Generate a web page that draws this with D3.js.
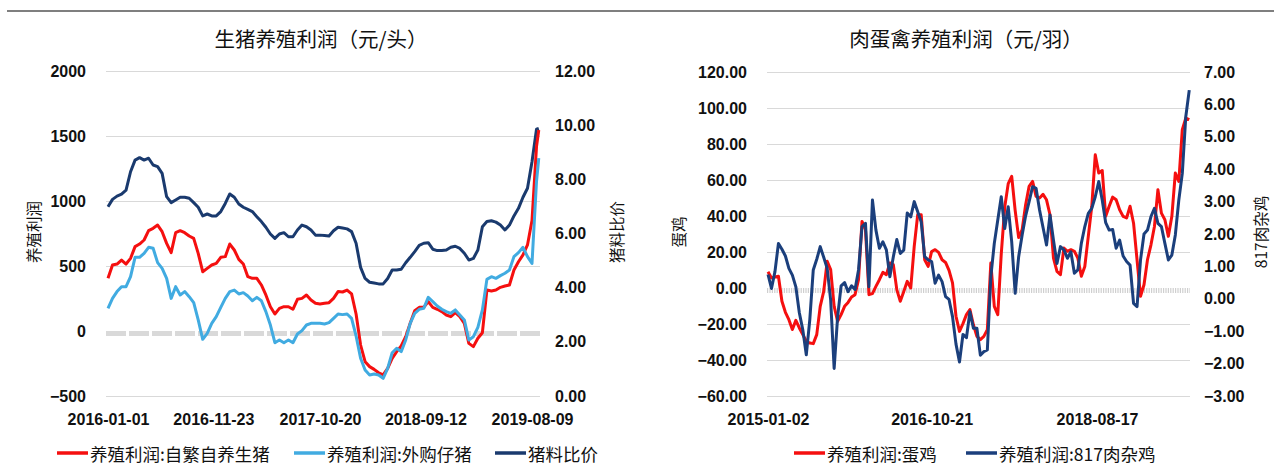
<!DOCTYPE html>
<html><head><meta charset="utf-8">
<script src="https://cdn.jsdelivr.net/npm/d3@7/dist/d3.min.js"></script>
<style>
html,body{margin:0;padding:0;background:#fff;}
svg{display:block;}
</style></head><body>
<svg id="c" width="1274" height="471"></svg>
<script>
// ---------------- LEFT CHART DATA (生猪养殖利润) ----------------
const pigDates = [
"2016-01-01","2016-01-15","2016-01-29","2016-02-12","2016-02-26","2016-03-11","2016-03-25","2016-04-08","2016-04-22","2016-05-06",
"2016-05-20","2016-06-03","2016-06-17","2016-07-01","2016-07-15","2016-07-29","2016-08-12","2016-08-26","2016-09-09","2016-09-23",
"2016-10-07","2016-10-21","2016-11-04","2016-11-18","2016-12-02","2016-12-16","2016-12-30",
"2017-01-13","2017-01-27","2017-02-10","2017-02-24","2017-03-10","2017-03-24","2017-04-07","2017-04-21","2017-05-05","2017-05-19",
"2017-06-02","2017-06-16","2017-06-30","2017-07-14","2017-07-28","2017-08-11","2017-08-25","2017-09-08","2017-09-22","2017-10-06",
"2017-10-20","2017-11-03","2017-11-17","2017-12-01","2017-12-15","2017-12-29",
"2018-01-12","2018-01-26","2018-02-09","2018-02-23","2018-03-09","2018-03-23","2018-04-06","2018-04-20","2018-05-04","2018-05-18",
"2018-06-01","2018-06-15","2018-06-29","2018-07-13","2018-07-27","2018-08-10","2018-08-24","2018-09-07","2018-09-21","2018-10-05",
"2018-10-19","2018-11-02","2018-11-16","2018-11-30","2018-12-14","2018-12-28",
"2019-01-11","2019-01-25","2019-02-08","2019-02-22","2019-03-08","2019-03-22","2019-04-05","2019-04-19","2019-05-03","2019-05-17",
"2019-05-31","2019-06-14","2019-06-28","2019-07-12","2019-07-26","2019-08-09","2019-08-23","2019-08-30"];
// 养殖利润:自繁自养生猪 (元/头)
const pigSelfBred = [
405,508,515,546,515,559,649,669,700,772,790,815,764,674,603,756,772,756,731,713,597,456,482,508,520,567,572,
669,623,551,515,418,405,405,354,277,187,131,174,187,187,167,244,251,277,238,213,208,213,218,251,303,300,
315,285,131,-108,-236,-274,-295,-321,-338,-287,-210,-159,-115,-44,59,156,182,182,226,182,167,149,123,110,141,110,
59,-95,-120,-56,-13,315,308,315,336,346,354,469,533,585,662,850,1418,1546];
// 养殖利润:外购仔猪 (元/头)
const pigPurchased = [
174,251,303,341,341,418,567,567,597,644,636,526,482,405,251,341,277,303,264,218,85,-64,-18,59,110,182,251,
303,315,285,295,269,233,259,233,149,46,-90,-69,-90,-69,-90,-23,3,46,59,59,59,54,64,97,131,126,
131,97,-38,-210,-300,-338,-331,-338,-364,-287,-167,-133,-159,-69,59,136,167,174,259,226,192,167,149,136,162,123,
85,-69,-44,28,162,397,418,405,426,444,469,572,603,644,572,520,1150,1330];
// 猪料比价
const pigFeedRatio = [
6.99,7.26,7.38,7.45,7.60,8.28,8.71,8.80,8.71,8.78,8.53,8.47,8.22,7.36,7.14,7.24,7.34,7.34,7.30,7.14,6.97,6.65,6.72,6.65,6.65,6.81,7.11,
7.46,7.34,7.09,6.97,6.89,6.81,6.62,6.44,6.23,5.98,5.82,5.98,6.03,5.88,5.88,6.13,6.31,6.25,6.13,5.94,5.94,5.93,5.91,6.10,6.23,6.20,
6.17,6.07,5.64,4.75,4.34,4.20,4.17,4.14,4.14,4.34,4.65,4.65,4.68,4.92,5.12,5.33,5.56,5.64,5.66,5.42,5.37,5.37,5.39,5.49,5.53,5.45,
5.27,5.02,5.08,5.39,6.25,6.44,6.47,6.42,6.31,6.13,6.31,6.65,6.93,7.34,7.67,8.65,9.85,9.88];
const pigTicksLeft = [-500,0,500,1000,1500,2000];
const pigTicksRight = [0,2,4,6,8,10,12];
const pigXTicks = ["2016-01-01","2016-11-23","2017-10-20","2018-09-12","2019-08-09"];

// ---------------- RIGHT CHART DATA (肉蛋禽养殖利润) ----------------
const poultryDates2015 = [
"2015-01-02","2015-01-16","2015-01-30","2015-02-13","2015-02-27","2015-03-13","2015-03-27","2015-04-10","2015-04-24","2015-05-08",
"2015-05-22","2015-06-05","2015-06-19","2015-07-03","2015-07-17","2015-07-31","2015-08-14","2015-08-28","2015-09-11","2015-09-25",
"2015-10-09","2015-10-23","2015-11-06","2015-11-20","2015-12-04","2015-12-18"];
const poultryDates = poultryDates2015.concat(pigDates.slice(0, 96));
// 养殖利润:蛋鸡 (元/羽, 左轴)
const eggProfit = [
9,5.6,6.1,6.5,-7.4,-13.5,-17.6,-23.1,-18,-22.2,-25.9,-29.6,-30.6,-30.9,-25.9,-10.2,-1.9,14.8,10.2,-10.2,-18.5,-14.8,-10.2,-8,-5,-3.7,
4.6,37,32.4,-3.7,-3.1,0.9,4.6,8.7,7.4,13.9,13,-0.9,-7.4,-2,3.7,0,23.1,40.7,40.7,15.7,12,20.3,21.3,19.8,15.7,14.2,9.8,
2.8,-15.7,-24.1,-19.8,-14.8,-12,-20.4,-26.9,-28.7,-26.9,-23.1,13.9,-10.2,-14.8,19,45,58,62,43,28,32.4,46.3,56.5,59.2,50.9,50,
52,49,40.7,16.6,9.2,7.4,22.2,20.4,21.3,20.4,16.6,6.5,12,28.7,45.4,74,63.9,65.3,39.8,45.4,50.5,49,43.5,39.8,38.9,45.4,
36,15.7,-4.6,1.8,15.7,24,34.2,54.6,41.6,37.9,28.7,39.8,63.9,59.2,88,94.4,93.5];
// 养殖利润:817肉杂鸡 (元/羽, 右轴)
const broilerProfit = [
0.75,0.32,0.84,1.71,1.53,1.32,0.94,0.73,0.37,-0.43,-0.96,-1.73,-0.65,0.89,1.22,1.61,1.28,0.94,-0.04,-2.15,-0.55,0.40,0.50,0.22,0.40,0.29,
0.89,2.23,2.33,0.37,3.05,2.12,1.56,1.76,1.51,0.68,1.30,1.83,1.40,1.50,2.65,2.53,3.0,2.69,2.38,1.30,1.20,1.15,0.48,0.73,0.53,0.07,-0.02,
-0.55,-1.4,-1.95,-1.1,-1.2,-0.40,-0.91,-0.91,-1.74,-1.63,-1.58,0.68,1.71,2.43,3.15,2.17,2.84,1.76,0.17,1.30,1.97,2.56,3.0,3.46,3.41,2.74,
2.2,1.66,2.59,1.81,1.09,1.61,1.51,1.25,1.45,0.79,0.89,1.71,2.23,2.64,2.79,3.15,3.62,3.05,2.35,2.12,2.14,1.56,1.81,1.32,1.15,1.04,
-0.14,-0.24,1.20,2.0,2.12,2.54,2.79,2.33,2.23,1.71,1.20,1.35,1.97,3.05,3.87,5.62,6.44];
const poultryTicksLeft = [-60,-40,-20,0,20,40,60,80,100,120];
const poultryTicksRight = [-3,-2,-1,0,1,2,3,4,5,6,7];
const poultryXTicks = ["2015-01-02","2016-10-21","2018-08-17"];

// ---------------- DRAWING ----------------
const parse = d3.timeParse("%Y-%m-%d");
const svg = d3.select("#c");
const CJK = "'Noto Sans CJK SC','Noto Sans',sans-serif";
const NUM = "'Liberation Sans',Arial,sans-serif";

svg.append("line").attr("x1",7).attr("x2",1274).attr("y1",11).attr("y2",11)
  .attr("stroke","#7f7f7f").attr("stroke-width",2);

function drawChart(cfg){
  const g = svg.append("g");
  const x = d3.scaleTime().domain(cfg.xDomain.map(parse)).range(cfg.xRange);
  const yL = d3.scaleLinear().domain(cfg.yLDomain).range([cfg.bottom, cfg.top]);
  const yR = d3.scaleLinear().domain(cfg.yRDomain).range([cfg.bottom, cfg.top]);
  const W = cfg.plotRight - cfg.plotLeft;

  // title
  g.append("text").attr("x",cfg.titleX).attr("y",38).attr("text-anchor","middle")
    .attr("dominant-baseline","central").attr("font-family",CJK).attr("font-size",20.5)
    .attr("fill","#111").text(cfg.title);

  // grid
  g.append("g").attr("transform",`translate(${cfg.plotLeft},0)`)
    .call(d3.axisLeft(yL).tickValues(cfg.ticksL.filter(v=>v!==0)).tickSize(-W).tickFormat(""))
    .call(a=>a.select(".domain").remove())
    .selectAll("line").attr("stroke","#d9d9d9").attr("stroke-width",1);

  // zero line
  g.append("line").attr("x1",cfg.plotLeft).attr("x2",cfg.plotRight)
    .attr("y1",yL(0)+2.5).attr("y2",yL(0)+2.5)
    .attr("stroke",cfg.zeroColor).attr("stroke-width",5).attr("stroke-dasharray",cfg.zeroDash);

  // axes
  const styleAxis = sel => { sel.select(".domain").remove();
    sel.selectAll("text").attr("font-family",NUM).attr("font-weight","bold")
      .attr("font-size",16).attr("fill","#111"); };
  g.append("g").attr("transform",`translate(${cfg.plotLeft},0)`)
    .call(d3.axisLeft(yL).tickValues(cfg.ticksL).tickSize(0).tickPadding(20).tickFormat(cfg.fmtL))
    .call(styleAxis);
  g.append("g").attr("transform",`translate(${cfg.plotRight},0)`)
    .call(d3.axisRight(yR).tickValues(cfg.ticksR).tickSize(0).tickPadding(cfg.padR).tickFormat(d3.format(".2f")))
    .call(styleAxis);
  g.append("g").attr("transform",`translate(0,${cfg.bottom})`)
    .call(d3.axisBottom(x).tickValues(cfg.xTicks.map(parse)).tickSize(0).tickPadding(18).tickFormat(d3.timeFormat("%Y-%m-%d")))
    .call(styleAxis);

  // axis titles
  [[cfg.axisTitleL, cfg.axisTitleLX],[cfg.axisTitleR, cfg.axisTitleRX]].forEach(([t,xx])=>{
    g.append("text").attr("transform",`translate(${xx},${cfg.axisTitleY}) rotate(-90)`)
      .attr("text-anchor","middle").attr("dominant-baseline","central")
      .attr("font-family",CJK).attr("font-size",15.5).attr("fill","#111").text(t);
  });

  // series
  const dates = cfg.dates.map(parse);
  cfg.series.forEach(s=>{
    const y = s.axis === "R" ? yR : yL;
    const line = d3.line().x((d,i)=>x(dates[i])).y(d=>y(d));
    g.append("path").datum(s.values).attr("d",line).attr("fill","none")
      .attr("stroke",s.color).attr("stroke-width",3).attr("stroke-linejoin","round");
  });

  // legend
  cfg.legend.forEach(l=>{
    const s = cfg.series.find(s=>s.name===l.name);
    g.append("line").attr("x1",l.x).attr("x2",l.x+31).attr("y1",453).attr("y2",453)
      .attr("stroke",s.color).attr("stroke-width",3.5);
    g.append("text").attr("x",l.x+33).attr("y",453).attr("dominant-baseline","central")
      .attr("font-family",CJK).attr("font-size",17.5).attr("fill","#111").text(s.name);
  });
}

drawChart({
  title:"生猪养殖利润（元/头）", titleX:321,
  xDomain:["2016-01-01","2019-08-09"], xRange:[108,532],
  plotLeft:106, plotRight:540, top:71, bottom:396, padR:15,
  yLDomain:[-500,2000], yRDomain:[0,12],
  ticksL:pigTicksLeft, ticksR:pigTicksRight, xTicks:pigXTicks, fmtL:d3.format("d"),
  zeroColor:"#d9d9d9", zeroDash:"20,3",
  axisTitleL:"养殖利润", axisTitleLX:33, axisTitleR:"猪料比价", axisTitleRX:616, axisTitleY:232,
  dates:pigDates,
  series:[
    {name:"猪料比价", values:pigFeedRatio, axis:"R", color:"#1a3a6e"},
    {name:"养殖利润:自繁自养生猪", values:pigSelfBred, axis:"L", color:"#f50f0f"},
    {name:"养殖利润:外购仔猪", values:pigPurchased, axis:"L", color:"#41abe1"}
  ],
  legend:[{name:"养殖利润:自繁自养生猪",x:57},{name:"养殖利润:外购仔猪",x:294},{name:"猪料比价",x:495}]
});

drawChart({
  title:"肉蛋禽养殖利润（元/羽）", titleX:966,
  xDomain:["2015-01-02","2018-08-17"], xRange:[768,1097],
  plotLeft:767, plotRight:1190, top:72, bottom:396, padR:14,
  yLDomain:[-60,120], yRDomain:[-3,7],
  ticksL:poultryTicksLeft, ticksR:poultryTicksRight, xTicks:poultryXTicks, fmtL:d3.format(".2f"),
  zeroColor:"#cfcfcf", zeroDash:"1.2,1.2",
  axisTitleL:"蛋鸡", axisTitleLX:678, axisTitleR:"817肉杂鸡", axisTitleRX:1260, axisTitleY:232,
  dates:poultryDates,
  series:[
    {name:"养殖利润:蛋鸡", values:eggProfit, axis:"L", color:"#f50f0f"},
    {name:"养殖利润:817肉杂鸡", values:broilerProfit, axis:"R", color:"#1b3f7c"}
  ],
  legend:[{name:"养殖利润:蛋鸡",x:794},{name:"养殖利润:817肉杂鸡",x:966}]
});
</script></body></html>
